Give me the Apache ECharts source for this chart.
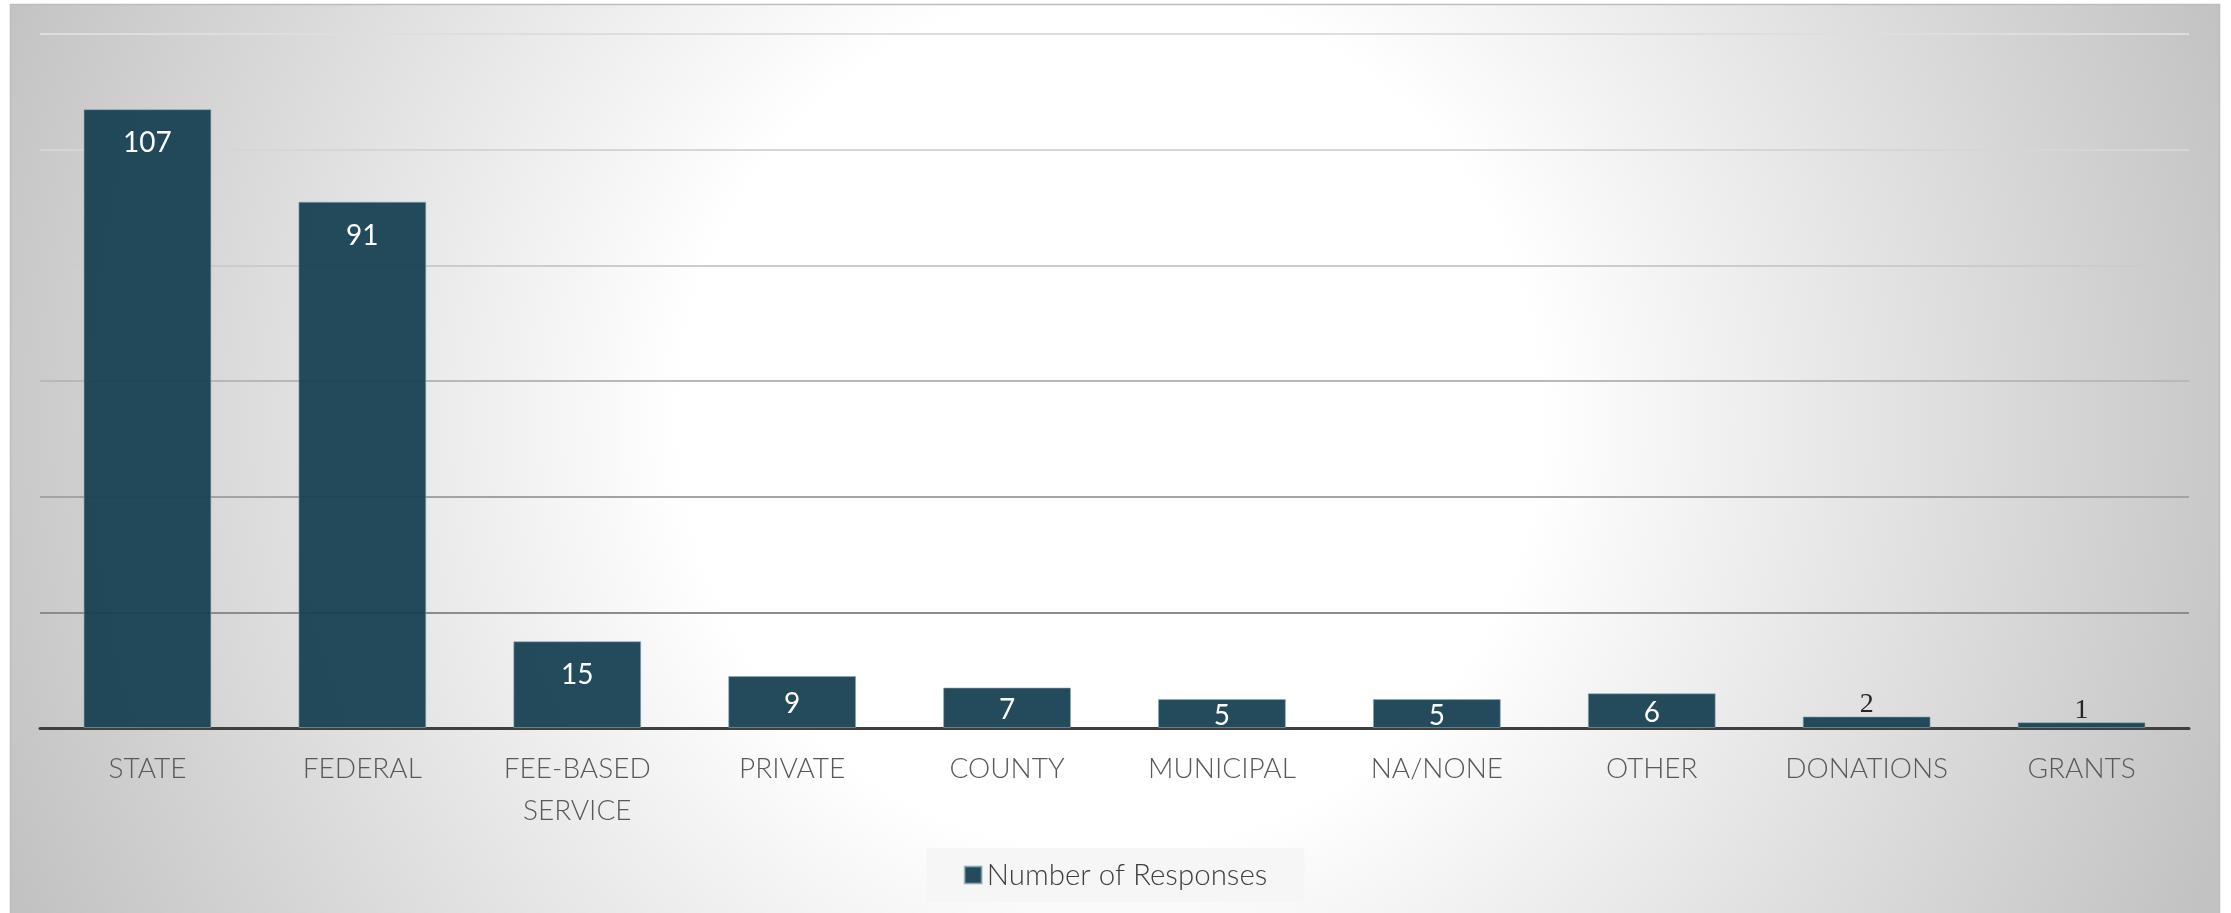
<!DOCTYPE html>
<html>
<head>
<meta charset="utf-8">
<script src="https://cdn.jsdelivr.net/npm/echarts@6/dist/echarts.min.js"></script>
<style>
html,body{margin:0;padding:0;background:#ffffff;}
#chart{width:2231px;height:913px;}
</style>
</head>
<body>
<div id="chart"></div>
<script>
const categories = ['STATE', 'FEDERAL', 'FEE-BASED SERVICE', 'PRIVATE', 'COUNTY', 'MUNICIPAL', 'NA/NONE', 'OTHER', 'DONATIONS', 'GRANTS'];
const responses = [107, 91, 15, 9, 7, 5, 5, 6, 2, 1];
const seriesName = 'Number of Responses';
const yMin = 0, yMax = 120, yInterval = 20;

const FONT = 'Lato, "Source Sans Pro", "Open Sans", sans-serif';

function labelFor(v) {
  if (v >= 10) {
    return { position: 'insideTop', distance: 20, color: '#ffffff' };
  } else if (v >= 4) {
    return { position: 'inside', offset: [0, 2], color: '#ffffff' };
  }
  return { position: 'top', distance: -2, color: '#262626', fontFamily: '"Liberation Serif", "DejaVu Serif", serif', fontWeight: 400 };
}

const chart = echarts.init(document.getElementById('chart'), null, { renderer: 'canvas' });
chart.setOption({
  backgroundColor: 'transparent',
  animation: false,
  graphic: [{
    type: 'rect',
    z: -100,
    silent: true,
    shape: { x: 10.5, y: 4.5, width: 2209, height: 915 },
    style: {
      fill: {
        type: 'radial', x: 1110, y: 420, r: 1190, global: true,
        colorStops: [
          { offset: 0, color: '#ffffff' },
          { offset: 0.36, color: '#ffffff' },
          { offset: 1, color: '#c2c2c2' }
        ]
      },
      stroke: '#bdbdbd',
      lineWidth: 1.5
    }
  }],
  grid: { left: 40, right: 42, top: 34, bottom: 185, containLabel: false },
  legend: {
    show: true,
    bottom: 11,
    left: 'center',
    backgroundColor: '#f6f6f6',
    padding: [12, 37, 12, 37],
    itemWidth: 17,
    itemHeight: 17,
    itemGap: 10,
    icon: 'rect',
    textStyle: { fontFamily: FONT, fontWeight: 300, fontSize: 29.5, color: '#404040' },
    data: [seriesName]
  },
  xAxis: {
    type: 'category',
    data: categories,
    axisLine: { show: true, lineStyle: { color: '#404040', width: 3 } },
    axisTick: { show: false },
    axisLabel: {
      interval: 0,
      margin: 20,
      fontFamily: FONT,
      fontWeight: 300,
      fontSize: 28,
      lineHeight: 42,
      color: '#595959',
      formatter: function (v) { return v.replace(' ', '\n'); }
    }
  },
  yAxis: {
    type: 'value',
    min: yMin,
    max: yMax,
    interval: yInterval,
    axisLine: { show: false },
    axisTick: { show: false },
    axisLabel: { show: false },
    splitLine: {
      show: true,
      lineStyle: {
        width: 2,
        color: ['#7a7a7a', '#8c8c8c', '#a3a3a3', '#b8b8b8', '#cccccc', '#d6d6d6', '#dedede']
      }
    }
  },
  series: [{
    name: seriesName,
    type: 'bar',
    barCategoryGap: '40.5%',
    itemStyle: {
      color: 'rgba(22,64,82,0.94)',
      borderColor: 'rgba(140,170,185,0.6)',
      borderWidth: 1
    },
    label: {
      show: true,
      fontFamily: FONT,
      fontWeight: 400,
      fontSize: 28,
      color: '#ffffff'
    },
    data: responses.map(function (v) {
      return { value: v, label: labelFor(v) };
    })
  }]
});
</script>
</body>
</html>
